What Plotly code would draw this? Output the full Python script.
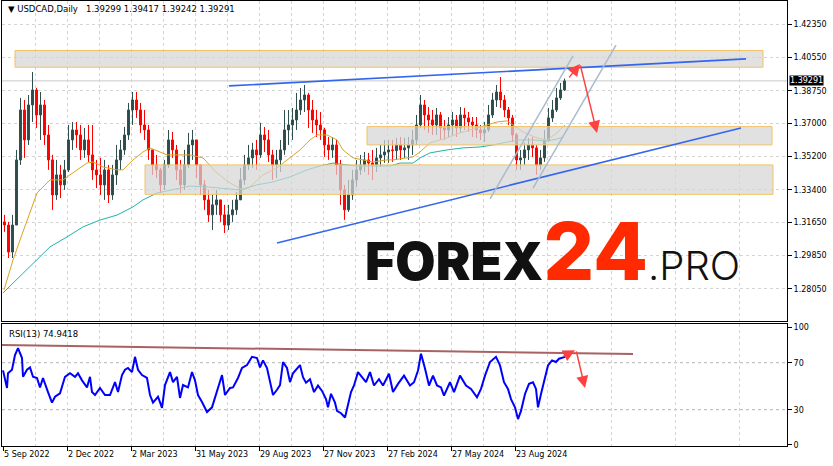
import plotly.graph_objects as go

# ---------------- data ----------------
price_ticks = [1.42350, 1.40550, 1.38750, 1.37000, 1.35200, 1.33400, 1.31650, 1.29850, 1.28050, 1.26300]
date_labels = ["5 Sep 2022", "2 Dec 2022", "2 Mar 2023", "31 May 2023", "29 Aug 2023",
               "27 Nov 2023", "27 Feb 2024", "27 May 2024", "23 Aug 2024"]
BARS_PER_LABEL = 64
BARS_PER_CANDLE = 4          # each candle below groups 4 daily bars

first_open = 1.3167
close = [1.3150, 1.3004, 1.3150, 1.3502, 1.3772, 1.3610, 1.3799, 1.3880, 1.3745, 1.3799,
         1.3637, 1.3502, 1.3313, 1.3421, 1.3367, 1.3448, 1.3610, 1.3664, 1.3637, 1.3556,
         1.3610, 1.3529, 1.3448, 1.3421, 1.3367, 1.3448, 1.3313, 1.3421, 1.3502, 1.3556,
         1.3637, 1.3772, 1.3826, 1.3772, 1.3691, 1.3664, 1.3556, 1.3475, 1.3448, 1.3367,
         1.3475, 1.3610, 1.3556, 1.3448, 1.3367, 1.3475, 1.3583, 1.3610, 1.3475, 1.3367,
         1.3286, 1.3205, 1.3259, 1.3286, 1.3205, 1.3150, 1.3205, 1.3232, 1.3286, 1.3394,
         1.3475, 1.3513, 1.3556, 1.3529, 1.3637, 1.3610, 1.3529, 1.3475, 1.3502, 1.3556,
         1.3664, 1.3691, 1.3718, 1.3772, 1.3826, 1.3853, 1.3772, 1.3718, 1.3691, 1.3664,
         1.3583, 1.3556, 1.3583, 1.3475, 1.3340, 1.3232, 1.3313, 1.3394, 1.3448, 1.3475,
         1.3502, 1.3485, 1.3475, 1.3513, 1.3529, 1.3545, 1.3556, 1.3552, 1.3583, 1.3556,
         1.3567, 1.3583, 1.3610, 1.3691, 1.3799, 1.3745, 1.3718, 1.3691, 1.3745, 1.3675,
         1.3664, 1.3691, 1.3718, 1.3675, 1.3745, 1.3729, 1.3707, 1.3691, 1.3664, 1.3648,
         1.3664, 1.3745, 1.3826, 1.3869, 1.3826, 1.3772, 1.3729, 1.3637, 1.3502, 1.3513,
         1.3556, 1.3583, 1.3567, 1.3475, 1.3513, 1.3610, 1.3729, 1.3772, 1.3837, 1.3880,
         1.39291]
high = [1.3205, 1.3167, 1.3205, 1.3556, 1.3837, 1.3826, 1.3853, 1.3977, 1.3891, 1.3869,
        1.3826, 1.3691, 1.3529, 1.3502, 1.3475, 1.3502, 1.3691, 1.3707, 1.3707, 1.3691,
        1.3675, 1.3691, 1.3691, 1.3502, 1.3513, 1.3502, 1.3475, 1.3475, 1.3583, 1.3610,
        1.3680, 1.3810, 1.3869, 1.3869, 1.3810, 1.3772, 1.3691, 1.3556, 1.3529, 1.3459,
        1.3502, 1.3664, 1.3653, 1.3583, 1.3502, 1.3556, 1.3648, 1.3664, 1.3610, 1.3475,
        1.3394, 1.3340, 1.3313, 1.3340, 1.3286, 1.3259, 1.3259, 1.3286, 1.3329, 1.3459,
        1.3529, 1.3583, 1.3594, 1.3610, 1.3702, 1.3680, 1.3664, 1.3556, 1.3556, 1.3610,
        1.3772, 1.3772, 1.3783, 1.3864, 1.3891, 1.3907, 1.3864, 1.3826, 1.3772, 1.3761,
        1.3675, 1.3626, 1.3626, 1.3610, 1.3502, 1.3367, 1.3394, 1.3448, 1.3502, 1.3529,
        1.3545, 1.3540, 1.3556, 1.3567, 1.3583, 1.3610, 1.3610, 1.3610, 1.3621, 1.3626,
        1.3621, 1.3626, 1.3664, 1.3745, 1.3853, 1.3826, 1.3788, 1.3772, 1.3783, 1.3761,
        1.3718, 1.3734, 1.3761, 1.3745, 1.3788, 1.3783, 1.3761, 1.3734, 1.3734, 1.3691,
        1.3707, 1.3799, 1.3864, 1.3907, 1.3950, 1.3853, 1.3788, 1.3745, 1.3648, 1.3556,
        1.3594, 1.3621, 1.3626, 1.3583, 1.3556, 1.3664, 1.3783, 1.3826, 1.3891, 1.3918,
        1.39417]
low = [1.3113, 1.2972, 1.2972, 1.3150, 1.3475, 1.3513, 1.3583, 1.3707, 1.3675, 1.3610,
       1.3583, 1.3448, 1.3232, 1.3286, 1.3296, 1.3340, 1.3437, 1.3556, 1.3567, 1.3502,
       1.3513, 1.3491, 1.3394, 1.3350, 1.3313, 1.3286, 1.3269, 1.3286, 1.3367, 1.3448,
       1.3529, 1.3610, 1.3691, 1.3729, 1.3648, 1.3610, 1.3502, 1.3421, 1.3404, 1.3323,
       1.3340, 1.3459, 1.3513, 1.3394, 1.3323, 1.3340, 1.3459, 1.3502, 1.3404, 1.3313,
       1.3232, 1.3167, 1.3123, 1.3205, 1.3167, 1.3107, 1.3123, 1.3167, 1.3205, 1.3286,
       1.3367, 1.3448, 1.3459, 1.3448, 1.3513, 1.3545, 1.3491, 1.3394, 1.3404, 1.3437,
       1.3529, 1.3583, 1.3610, 1.3664, 1.3745, 1.3761, 1.3675, 1.3648, 1.3626, 1.3610,
       1.3518, 1.3502, 1.3513, 1.3421, 1.3259, 1.3178, 1.3221, 1.3286, 1.3356, 1.3421,
       1.3437, 1.3421, 1.3394, 1.3437, 1.3464, 1.3486, 1.3486, 1.3491, 1.3502, 1.3502,
       1.3513, 1.3502, 1.3529, 1.3583, 1.3675, 1.3664, 1.3648, 1.3637, 1.3637, 1.3610,
       1.3610, 1.3626, 1.3637, 1.3626, 1.3648, 1.3664, 1.3653, 1.3626, 1.3621, 1.3610,
       1.3599, 1.3653, 1.3729, 1.3788, 1.3783, 1.3734, 1.3691, 1.3599, 1.3448, 1.3448,
       1.3475, 1.3502, 1.3518, 1.3421, 1.3448, 1.3491, 1.3599, 1.3707, 1.3761, 1.3826,
       1.3875]

# moving averages (bar index, value)
ma_fast_bar = [1, 10, 17, 24, 34, 47, 60, 74, 84, 90, 100, 114, 120, 130, 140, 147, 157, 164, 174, 187,
               200, 214, 227, 240, 247, 260, 274, 284, 297, 307, 314, 324, 334, 340, 350, 360, 370, 384, 390, 410,
               417, 427, 444, 460, 474, 484, 494, 504, 510, 520, 534, 544, 554, 562]
ma_fast_val = [1.2799, 1.2961, 1.3069, 1.3177, 1.3323, 1.3394, 1.3394, 1.3448, 1.3485, 1.3491,
               1.3464, 1.3448, 1.3448, 1.3502, 1.3545, 1.3567, 1.3545, 1.3529, 1.3529, 1.3529,
               1.3513, 1.3431, 1.3377, 1.3340, 1.3356, 1.3421, 1.3459, 1.3502, 1.3556, 1.3610,
               1.3637, 1.3637, 1.3610, 1.3556, 1.3513, 1.3502, 1.3491, 1.3502, 1.3502, 1.3518,
               1.3545, 1.3594, 1.3621, 1.3653, 1.3675, 1.3691, 1.3707, 1.3713, 1.3691, 1.3653,
               1.3621, 1.3610, 1.3648, 1.3691]
ma_slow_bar = [0, 34, 47, 64, 80, 97, 114, 130, 140, 154, 170, 187, 204, 220, 237, 254, 270, 287, 304, 317,
               330, 344, 354, 370, 387, 397, 410, 417, 427, 444, 460, 477, 490, 504, 517, 530, 544, 554, 560]
ma_slow_val = [1.2783, 1.2961, 1.3032, 1.3086, 1.3140, 1.3177, 1.3204, 1.3248, 1.3286, 1.3323,
               1.3340, 1.3361, 1.3356, 1.3350, 1.3340, 1.3367, 1.3383, 1.3410, 1.3448, 1.3469,
               1.3485, 1.3475, 1.3469, 1.3469, 1.3469, 1.3485, 1.3485, 1.3513, 1.3540, 1.3556,
               1.3567, 1.3572, 1.3583, 1.3599, 1.3610, 1.3610, 1.3604, 1.3615, 1.3626]

# RSI(13)
rsi_bar = [0, 4, 5, 9, 12, 15, 19, 20, 24, 27, 30, 34, 37, 40, 45, 49, 52, 57, 62, 67,
           72, 75, 79, 84, 87, 89, 92, 97, 102, 107, 112, 115, 119, 122, 125, 129, 132, 135, 139, 144,
           147, 150, 155, 159, 162, 167, 170, 174, 177, 180, 185, 189, 192, 195, 199, 204, 209, 214, 219, 222,
           227, 230, 235, 239, 244, 249, 254, 257, 260, 264, 267, 270, 274, 277, 280, 284, 287, 290, 297, 300,
           303, 307, 311, 315, 319, 323, 325, 328, 332, 334, 338, 342, 344, 348, 351, 355, 359, 363, 367, 371,
           376, 380, 386, 390, 395, 401, 407, 411, 415, 418, 422, 426, 430, 434, 438, 441, 447, 451, 457, 463,
           468, 474, 478, 482, 487, 493, 497, 501, 505, 508, 512, 515, 518, 522, 526, 530, 533, 535, 538, 541,
           545, 549, 553, 556, 562]
rsi_val = [63.5, 48.5, 61, 64, 76.5, 82.5, 74, 58, 64, 66, 58, 57, 49, 57, 45, 36, 41, 44, 58, 61,
           58, 61, 55, 49, 58, 45, 42.5, 48.5, 42.5, 42.5, 53.5, 45, 59.5, 64, 65.5, 62, 75, 64, 59.5, 57,
           42.5, 36, 41, 31.5, 51, 62, 53.5, 58, 40, 51, 49, 62, 55, 42.5, 36.5, 28, 32, 45, 59.5, 42.5,
           48.5, 49, 57, 65.5, 68, 75, 74, 66, 72, 65.5, 53.5, 42.5, 47, 51, 70.5, 65.5, 53.5, 61, 68, 57.7,
           53, 56, 45, 50.5, 46, 39, 32, 43.5, 36, 29, 27, 23.4, 30.6, 45, 50.6, 62, 57.7, 53.4, 62, 50.6,
           56, 50.6, 60.6, 45, 52, 59, 50.6, 53.4, 63.4, 77.7, 65, 50.6, 59, 50.6, 49, 42, 53.4, 45, 59, 50.6,
           47.7, 40.6, 47.7, 59, 70.6, 75, 67.7, 53.4, 47.7, 39, 32, 22, 29, 43.4, 52, 53.4, 47.7, 32, 43.4, 53.4,
           67.7, 72, 70.6, 73.4, 74.9418]
rsi_levels = [70, 30]
rsi_ticks = [100, 70, 30, 0]

# drawing objects: zones (bar0, bar1, price_low, price_high), lines ((bar, price), (bar, price))
zones = [(12, 760, 1.4003, 1.4093), (364, 769, 1.3583, 1.3682), (142, 770, 1.3316, 1.3475)]
blue_lines = [((226, 1.3902), (743, 1.4048)), ((274, 1.3053), (738, 1.3675))]
channel_lines = [((487, 1.3291), (570, 1.4064)), ((530, 1.3350), (613, 1.4123))]
price_arrows = [((565, 1.3940), (577, 1.4021)), ((577, 1.4021), (594, 1.3648))]
rsi_trend = ((-3, 85.1), (630, 77.4))
rsi_arrows = [((559, 74.9), (572, 80.7)), ((573, 81.0), (582, 48.5))]

header = "\u25BC USDCAD,Daily\u00a0\u00a0 1.39299 1.39417 1.39242 1.39291"
rsi_label = "RSI(13) 74.9418"

# ---------------- figure ----------------
GRID = "#d4d4d4"
FONT = "DejaVu Sans"
opens = [first_open] + close[:-1]
cx = [BARS_PER_CANDLE * k + (BARS_PER_CANDLE - 1) / 2 for k in range(len(close))]
major = [BARS_PER_LABEL * i for i in range(len(date_labels))]
minor = [BARS_PER_LABEL * i + BARS_PER_LABEL // 2 for i in range(13)]
XR = [-1, 784]

fig = go.Figure()
fig.add_trace(go.Candlestick(
    x=cx, open=opens, high=high, low=low, close=close, xaxis="x", yaxis="y",
    increasing=dict(line=dict(color="#2F4F4F", width=1), fillcolor="#2F4F4F"),
    decreasing=dict(line=dict(color="#FF0000", width=1), fillcolor="#FF0000"),
    whiskerwidth=0, showlegend=False, hoverinfo="skip"))
fig.add_trace(go.Scatter(x=ma_fast_bar, y=ma_fast_val, mode="lines", xaxis="x", yaxis="y",
                         line=dict(color="#DAA520", width=1), showlegend=False, hoverinfo="skip"))
fig.add_trace(go.Scatter(x=ma_slow_bar, y=ma_slow_val, mode="lines", xaxis="x", yaxis="y",
                         line=dict(color="#20B2AA", width=1), showlegend=False, hoverinfo="skip"))
fig.add_trace(go.Scatter(x=rsi_bar, y=rsi_val, mode="lines", xaxis="x2", yaxis="y2",
                         line=dict(color="#0000FF", width=2), showlegend=False, hoverinfo="skip"))

shapes = []
shapes.append(dict(type="line", xref="x domain", yref="y", x0=0, x1=1, y0=close[-1], y1=close[-1],
                   line=dict(color="#c8c8c8", width=1), layer="below"))
for lv in rsi_levels:
    shapes.append(dict(type="line", xref="x2 domain", yref="y2", x0=0, x1=1, y0=lv, y1=lv,
                       line=dict(color="#b4b4b4", width=1, dash="3px,3px"), layer="below"))
for b0, b1, p0, p1 in zones:
    shapes.append(dict(type="rect", xref="x", yref="y", x0=b0, x1=b1, y0=p0, y1=p1,
                       fillcolor="rgba(214,214,214,0.72)", line=dict(color="#f2c263", width=1), layer="above"))
for (a, b) in blue_lines:
    shapes.append(dict(type="line", xref="x", yref="y", x0=a[0], y0=a[1], x1=b[0], y1=b[1],
                       line=dict(color="#3366ee", width=1.6), layer="above"))
for (a, b) in channel_lines:
    shapes.append(dict(type="line", xref="x", yref="y", x0=a[0], y0=a[1], x1=b[0], y1=b[1],
                       line=dict(color="#a9bccd", width=1.5), layer="above"))
shapes.append(dict(type="line", xref="x2", yref="y2", x0=rsi_trend[0][0], y0=rsi_trend[0][1],
                   x1=rsi_trend[1][0], y1=rsi_trend[1][1],
                   line=dict(color="rgba(145,60,60,0.8)", width=2), layer="above"))

annotations = []
for (t, h) in price_arrows:
    annotations.append(dict(x=h[0], y=h[1], ax=t[0], ay=t[1], xref="x", yref="y", axref="x", ayref="y",
                            text="", showarrow=True, arrowhead=2, arrowsize=1.6, arrowwidth=1.5,
                            arrowcolor="#ff4040"))
for (t, h) in rsi_arrows:
    annotations.append(dict(x=h[0], y=h[1], ax=t[0], ay=t[1], xref="x2", yref="y2", axref="x2", ayref="y2",
                            text="", showarrow=True, arrowhead=2, arrowsize=1.6, arrowwidth=1.5,
                            arrowcolor="#ff4040"))
annotations.append(dict(xref="paper", yref="paper", x=0, y=1, xanchor="left", yanchor="top",
                        xshift=4, yshift=-1, text=header, showarrow=False,
                        font=dict(family=FONT, size=8.5, color="black")))
annotations.append(dict(xref="paper", yref="paper", x=0, y=0.274, xanchor="left", yanchor="top",
                        xshift=5, yshift=-3, text=rsi_label, showarrow=False,
                        font=dict(family=FONT, size=8.5, color="black")))
annotations.append(dict(xref="paper", yref="y", x=1, y=close[-1], xanchor="left", xshift=2,
                        text=f"{close[-1]:.5f}", showarrow=False, bgcolor="black", borderpad=0,
                        font=dict(family=FONT, size=8, color="white")))
annotations.append(dict(
    xref="x", yref="y", x=360, y=1.2742, xanchor="left", yanchor="bottom", showarrow=False,
    text=('<span style="font-weight:900">FOREX</span>'
          '<span style="color:#ff2a00;font-size:80px;font-weight:800">24</span>'
          '<span style="font-size:40px;font-weight:300">.PRO</span>'),
    font=dict(family="Inter", size=52, color="#111111")))

axis_common = dict(showline=True, mirror=True, linecolor="black", linewidth=1, zeroline=False)
fig.update_layout(
    width=833, height=466, margin=dict(l=2, r=46, t=1, b=20),
    paper_bgcolor="white", plot_bgcolor="white", showlegend=False,
    shapes=shapes, annotations=annotations,
    xaxis=dict(domain=[0, 1], anchor="y", range=XR, tickvals=major, showticklabels=False, ticks="",
               showgrid=True, gridcolor=GRID, griddash="3px,3px",
               minor=dict(tickvals=minor, showgrid=True, gridcolor=GRID, griddash="3px,3px", ticks=""),
               rangeslider=dict(visible=False), **axis_common),
    yaxis=dict(domain=[0.281, 1], anchor="x", side="right", range=[1.26316, 1.43609],
               tickvals=price_ticks, ticktext=[f"{v:.5f}" for v in price_ticks],
               ticks="outside", ticklen=4, tickcolor="black",
               tickfont=dict(family=FONT, size=8, color="black"),
               showgrid=True, gridcolor=GRID, griddash="3px,3px", **axis_common),
    xaxis2=dict(domain=[0, 1], anchor="y2", range=XR, matches="x", tickvals=major, ticktext=date_labels,
                ticks="outside", ticklen=4, tickcolor="black", ticklabelposition="outside right",
                tickfont=dict(family=FONT, size=8, color="black"),
                showgrid=True, gridcolor=GRID, griddash="3px,3px",
                minor=dict(tickvals=minor, showgrid=True, gridcolor=GRID, griddash="3px,3px", ticks=""),
                rangeslider=dict(visible=False), **axis_common),
    yaxis2=dict(domain=[0, 0.274], anchor="x2", side="right", range=[-0.9, 102.9],
                tickvals=rsi_ticks, ticks="outside", ticklen=4, tickcolor="black",
                tickfont=dict(family=FONT, size=8, color="black"), showgrid=False, **axis_common),
)

fig.write_html("out.html", config={"displayModeBar": False},
               post_script="document.body.style.margin='0px';")
